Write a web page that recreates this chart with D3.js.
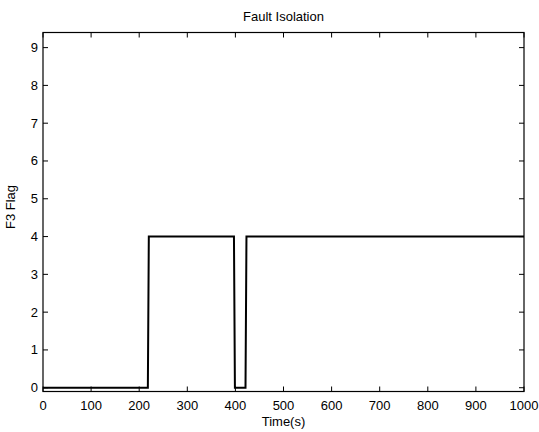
<!DOCTYPE html>
<html>
<head>
<meta charset="utf-8">
<script src="https://cdn.jsdelivr.net/npm/d3@7"></script>
<style>
  html, body { margin: 0; padding: 0; background: #fff; }
  svg { display: block; font-family: "Liberation Sans", Arial, sans-serif; }
</style>
</head>
<body>
<script>
  // step signal
  const timeS = [0, 218, 220, 397, 399, 421, 423, 1000];
  const flag  = [0, 0,   4,   4,   0,   0,   4,   4];
  const xTicks = [0, 100, 200, 300, 400, 500, 600, 700, 800, 900, 1000];
  const yTicks = [0, 1, 2, 3, 4, 5, 6, 7, 8, 9];

  const W = 539, H = 432;
  const box = { l: 43, r: 524, t: 32.5, b: 391.5 };
  const tickLen = 5;
  const fs = 13;

  const svg = d3.select("body").append("svg")
    .attr("width", W).attr("height", H);

  svg.append("rect").attr("width", W).attr("height", H).attr("fill", "#fff");

  const x = d3.scaleLinear().domain([0, 1000]).range([box.l, box.r]);
  const y = d3.scaleLinear().domain([-0.1, 9.4]).range([box.b, box.t]);

  const g = svg.append("g");

  // ticks inward on all four sides
  const tk = g.append("g").attr("stroke", "#000").attr("stroke-width", 1);
  xTicks.forEach(v => {
    tk.append("line").attr("x1", x(v)).attr("x2", x(v)).attr("y1", box.b).attr("y2", box.b - tickLen);
    tk.append("line").attr("x1", x(v)).attr("x2", x(v)).attr("y1", box.t).attr("y2", box.t + tickLen);
  });
  yTicks.forEach(v => {
    tk.append("line").attr("y1", y(v)).attr("y2", y(v)).attr("x1", box.l).attr("x2", box.l + tickLen);
    tk.append("line").attr("y1", y(v)).attr("y2", y(v)).attr("x1", box.r).attr("x2", box.r - tickLen);
  });

  // data line
  const pts = timeS.map((t, i) => [t, flag[i]]);
  g.append("path")
    .datum(pts)
    .attr("fill", "none")
    .attr("stroke", "#000")
    .attr("stroke-width", 2)
    .attr("d", d3.line().x(d => x(d[0])).y(d => y(d[1])));

  // box
  g.append("rect")
    .attr("x", box.l).attr("y", box.t)
    .attr("width", box.r - box.l).attr("height", box.b - box.t)
    .attr("fill", "none").attr("stroke", "#000").attr("stroke-width", 1.2);

  // tick labels
  g.selectAll(".xl").data(xTicks).join("text")
    .attr("x", d => x(d)).attr("y", box.b + 18)
    .attr("text-anchor", "middle").attr("font-size", fs)
    .text(d => d);

  g.selectAll(".yl").data(yTicks).join("text")
    .attr("x", box.l - 5).attr("y", d => y(d) + 4.5)
    .attr("text-anchor", "end").attr("font-size", fs)
    .text(d => d);

  // labels and title
  svg.append("text")
    .attr("x", (box.l + box.r) / 2).attr("y", 21)
    .attr("text-anchor", "middle").attr("font-size", fs)
    .text("Fault Isolation");

  svg.append("text")
    .attr("x", (box.l + box.r) / 2).attr("y", 426)
    .attr("text-anchor", "middle").attr("font-size", fs)
    .text("Time(s)");

  svg.append("text")
    .attr("transform", `translate(15,207) rotate(-90)`)
    .attr("text-anchor", "middle").attr("font-size", fs)
    .text("F3 Flag");
</script>
</body>
</html>
